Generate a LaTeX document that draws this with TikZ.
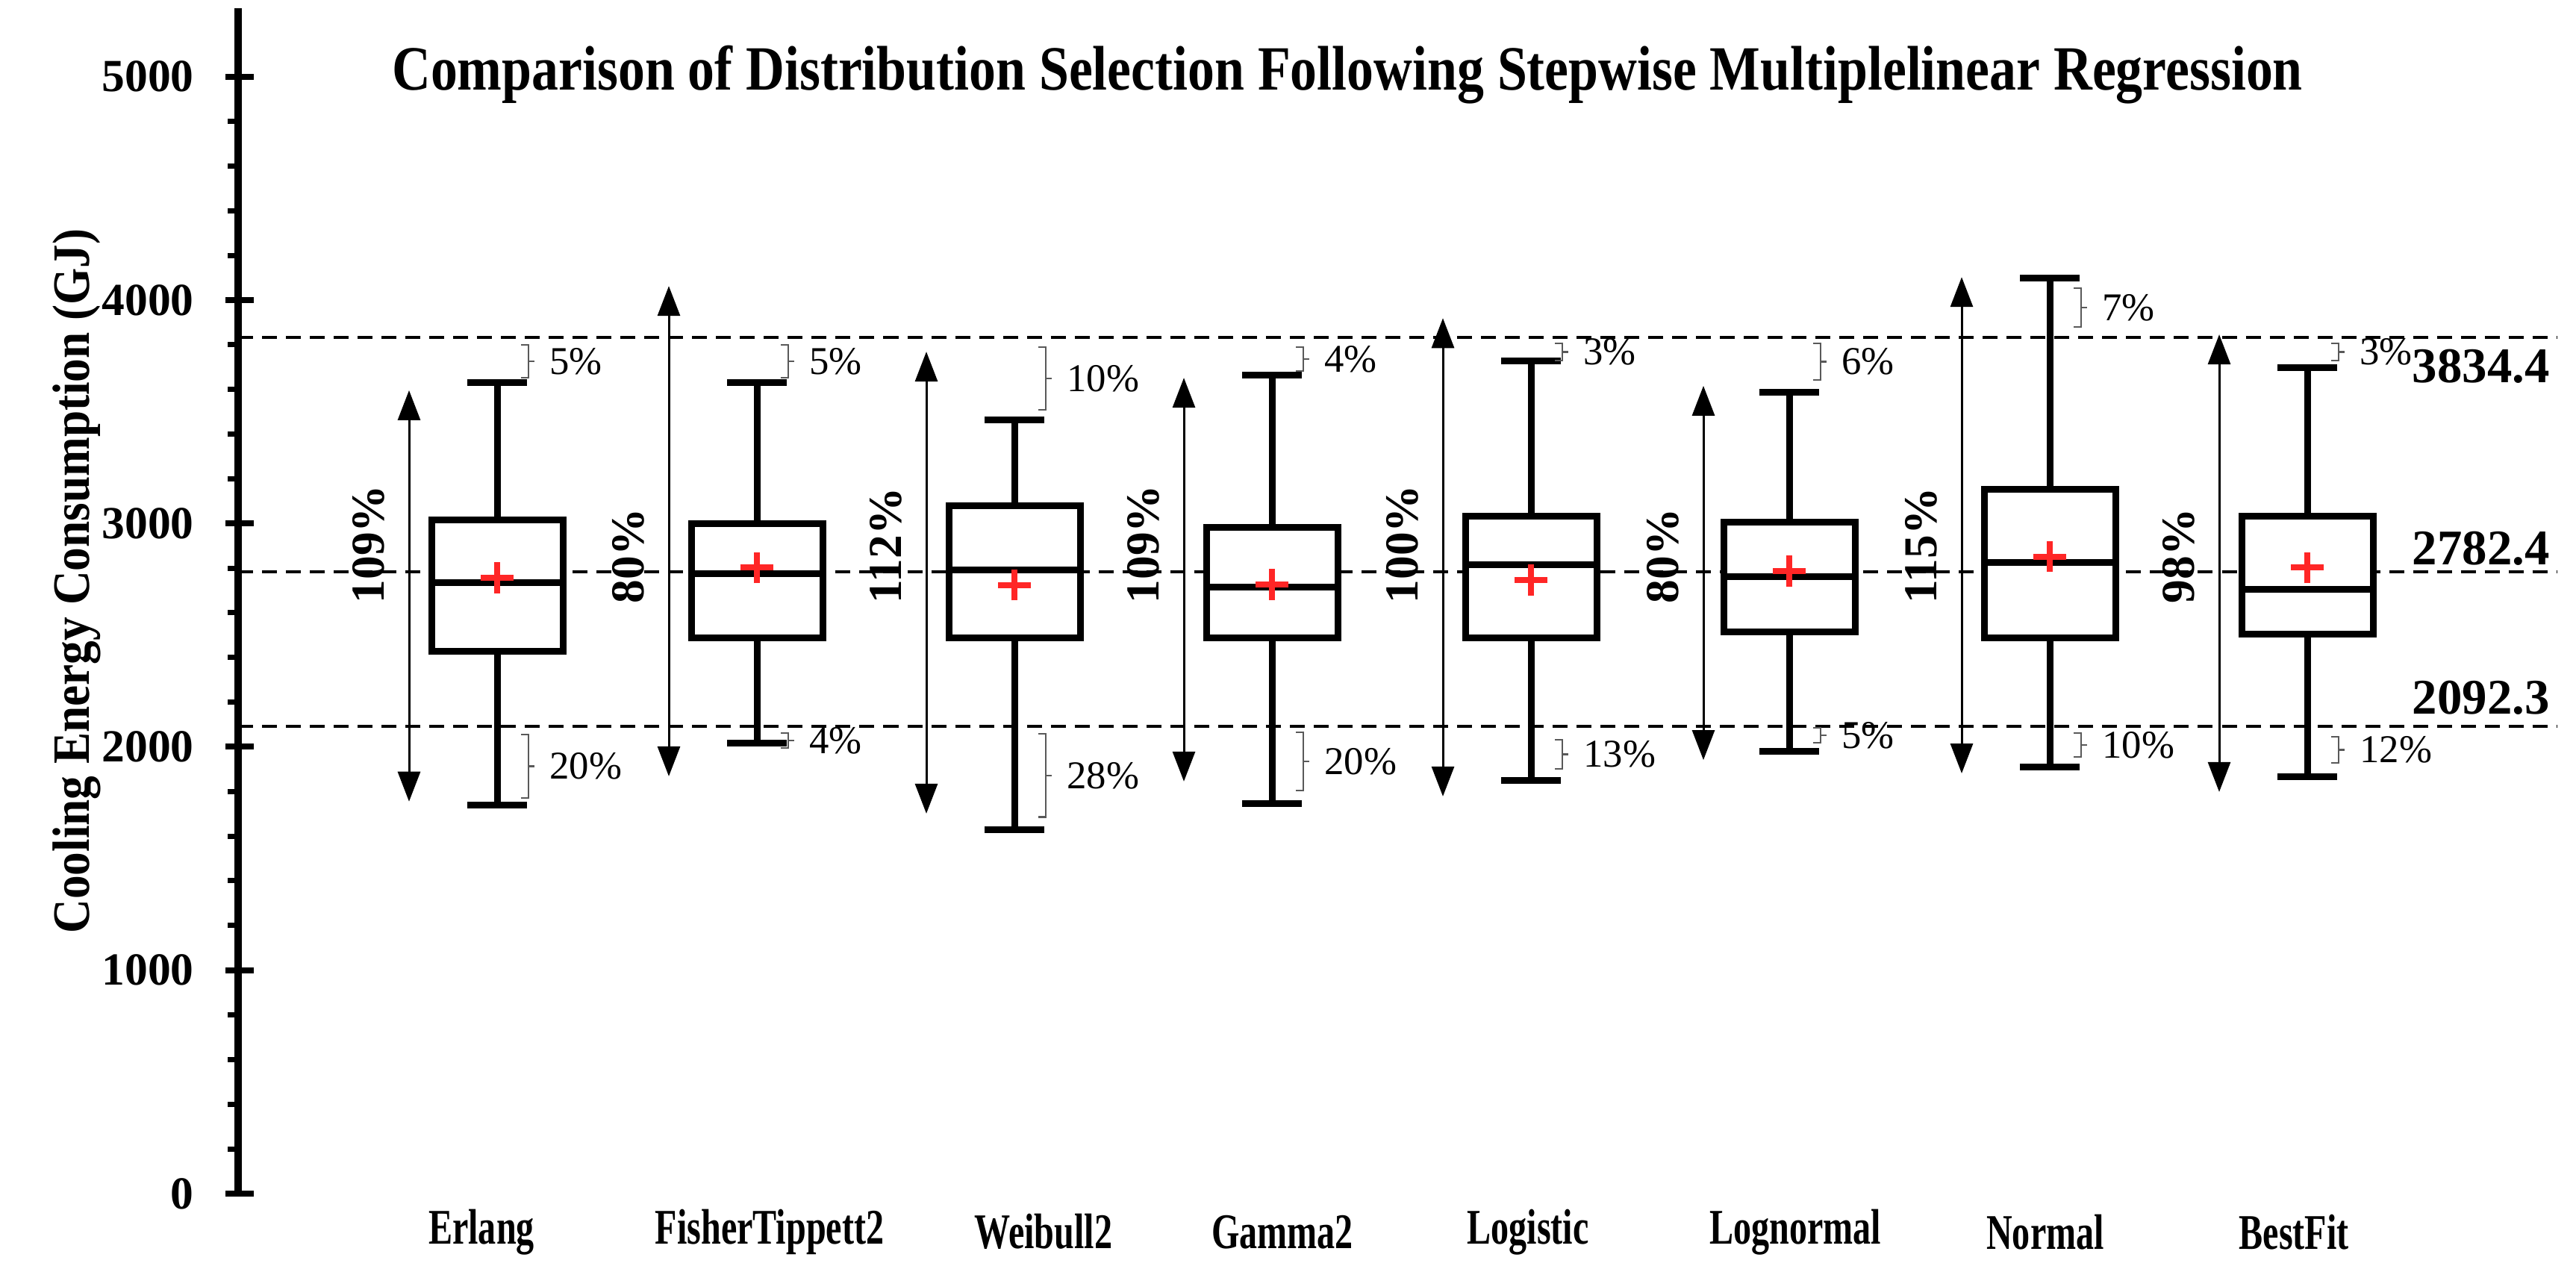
\documentclass[tikz,border=0pt]{standalone}
\usepackage{fontspec}
\setmainfont{Liberation Serif}
\usetikzlibrary{arrows.meta}
\begin{document}
\begin{tikzpicture}[x=0.01cm,y=0.002998cm,
  thk/.style={line width=0.09cm},
  refl/.style={line width=0.04cm,dash pattern=on 0.2cm off 0.12cm},
  rng/.style={line width=0.03cm,{Triangle[width=0.3cm,length=0.4cm]}-{Triangle[width=0.3cm,length=0.4cm]}},
  brk/.style={draw=gray!70!black,line width=0.025cm},
  big/.style={font=\fontsize{17.5}{20}\selectfont\bfseries},
  cat/.style={font=\fontsize{19}{20}\selectfont\bfseries},
  pct/.style={font=\fontsize{15}{18}\selectfont},
  rot/.style={font=\fontsize{18}{20}\selectfont\bfseries,rotate=90,anchor=west,inner sep=0pt},
  mean/.style={draw=red!85!white,line width=0.08cm}]
\useasboundingbox (0,-350.2) rectangle (3451,5343.6);
% axis
\draw[line width=0.1cm] (319,5307) -- (319,0);
\foreach \v in {0,1000,...,5000}{
  \draw[line width=0.08cm] (302,\v) -- (340,\v);
  \node[big,anchor=east] at (272,\v) {\v};}
\foreach \v in {200,400,...,4800}{\draw[line width=0.07cm] (305,\v) -- (319,\v);}
\node[font=\fontsize{20}{22}\selectfont\bfseries,rotate=90] (ylab) at (103,2742) {\scalebox{0.9}[1]{Cooling Energy Consumption (GJ)}};
\node[font=\fontsize{24}{26}\selectfont\bfseries] (title) at (1805,5010) {\scalebox{0.85}[1]{Comparison of Distribution Selection Following Stepwise Multiplelinear Regression}};
% reference lines
\draw[refl] (319,3834.4) -- (3425,3834.4);
\draw[refl] (319,2782.4) -- (3425,2782.4);
\draw[refl] (319,2092.3) -- (3425,2092.3);
\node[font=\fontsize{19}{20}\selectfont\bfseries,anchor=east] at (3428,3702) {3834.4};
\node[font=\fontsize{19}{20}\selectfont\bfseries,anchor=east] at (3428,2889) {2782.4};
\node[font=\fontsize{19}{20}\selectfont\bfseries,anchor=east] at (3428,2218) {2092.3};
% box macro: #1 x, #2 low, #3 Q1, #4 med, #5 Q3, #6 top, #7 mean
\newcommand\bxplot[7]{%
  \draw[thk] (#1,#2) -- (#1,#3);
  \draw[thk] (#1,#5) -- (#1,#6);
  \draw[thk] (#1-40,#2) -- (#1+40,#2);
  \draw[thk] (#1-40,#6) -- (#1+40,#6);
  \draw[thk,fill=white] (#1-88,#3) rectangle (#1+88,#5);
  \draw[thk] (#1-88,#4) -- (#1+88,#4);
  \draw[mean] (#1-22,#7) -- (#1+22,#7);
  \draw[mean] (#1,#7-70) -- (#1,#7+70);}
% bracket: #1 x, #2 y1, #3 y2, #4 label
\newcommand\brkt[4]{%
  \draw[brk] (#1+32,#2) -- (#1+42,#2) -- (#1+42,#3) -- (#1+32,#3);
  \draw[brk] (#1+42,{(#2+#3)/2}) -- (#1+50,{(#2+#3)/2});
  \node[pct,anchor=west] at (#1+58,{(#2+#3)/2}) {#4};}
% range arrow: #1 x, #2 low, #3 high, #4 label
\newcommand\rnge[4]{%
  \draw[rng] (#1-118,#2) -- (#1-118,#3);
  \node[rot] at (#1-172,2640) {#4};}
\newcommand\catlab[2]{\node[cat] at (#1,-172) {\scalebox{0.72}[1]{#2}};}
% data
\rnge{666}{1755}{3596}{109\%}\bxplot{666}{1738}{2428}{2735}{3015}{3632}{2758}
\brkt{666}{3800}{3652}{5\%}\brkt{666}{2055}{1770}{20\%}
\catlab{645}{Erlang}
\rnge{1014}{1868}{4063}{80\%}\bxplot{1014}{2018}{2488}{2775}{2999}{3632}{2802}
\brkt{1014}{3800}{3652}{5\%}\brkt{1014}{2061}{1995}{4\%}
\catlab{1031}{FisherTippett2}
\rnge{1359}{1701}{3769}{112\%}\bxplot{1359}{1628}{2488}{2792}{3079}{3462}{2725}
\brkt{1359}{3789}{3509}{10\%}\brkt{1359}{2058}{1685}{28\%}
\catlab{1398}{Weibull2}
\rnge{1704}{1845}{3652}{109\%}\bxplot{1704}{1745}{2488}{2715}{2982}{3663}{2728}
\brkt{1704}{3789}{3682}{4\%}\brkt{1704}{2065}{1804}{20\%}
\catlab{1718}{Gamma2}
\rnge{2051}{1778}{3919}{100\%}\bxplot{2051}{1848}{2488}{2815}{3032}{3726}{2748}
\brkt{2051}{3806}{3729}{3\%}\brkt{2051}{2031}{1901}{13\%}
\catlab{2047}{Logistic}
\rnge{2400}{1941}{3616}{80\%}\bxplot{2397}{1981}{2515}{2762}{3005}{3586}{2788}
\brkt{2397}{3806}{3642}{6\%}\brkt{2397}{2085}{2018}{5\%}
\catlab{2405}{Lognormal}
\rnge{2746}{1881}{4103}{115\%}\bxplot{2746}{1908}{2488}{2825}{3152}{4100}{2852}
\brkt{2746}{4053}{3879}{7\%}\brkt{2746}{2061}{1955}{10\%}
\catlab{2740}{Normal}
\rnge{3091}{1798}{3846}{98\%}\bxplot{3091}{1865}{2505}{2705}{3032}{3699}{2802}
\brkt{3091}{3806}{3729}{3\%}\brkt{3091}{2045}{1928}{12\%}
\catlab{3073}{BestFit}
\end{tikzpicture}
\end{document}
